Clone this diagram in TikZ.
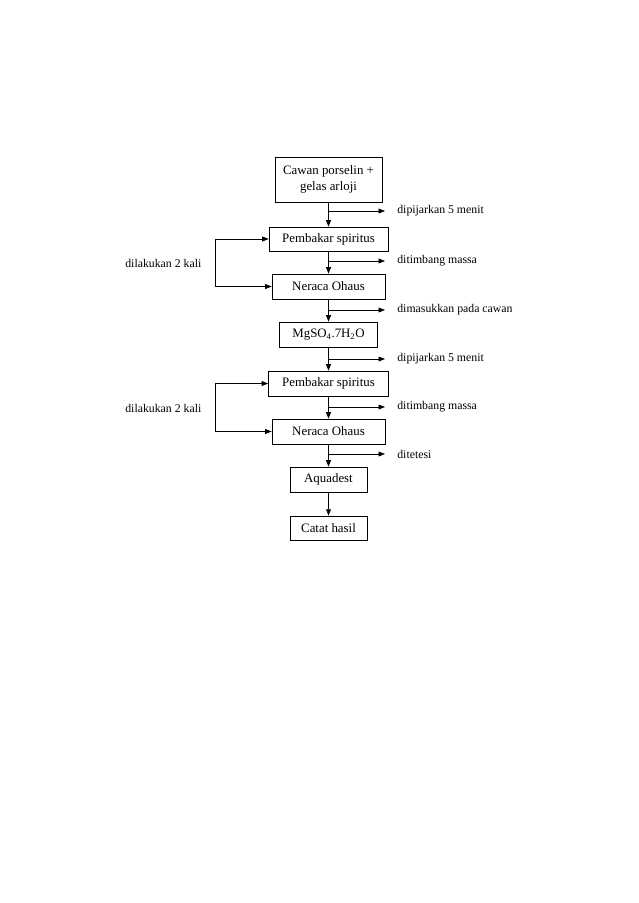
\documentclass[tikz,border=0pt]{standalone}
\usepackage{fontspec}
\setmainfont{Liberation Serif}
\usetikzlibrary{arrows.meta}

\newcommand{\pxu}{0.9326pt}

\begin{document}
\begin{tikzpicture}[x=\pxu, y=-\pxu, line width=0.6pt, >={Triangle[length=6pt,width=4.5pt]},
		box/.style={draw, inner sep=0pt, align=center, font=\fontsize{12}{14.5}\selectfont},
		note/.style={anchor=west, inner sep=0pt, font=\fontsize{11}{13}\selectfont}]
				\useasboundingbox (0,0) rectangle (638,903);
				% langkah-langkah
				\node[box, minimum width=107*\pxu, minimum height=45*\pxu] (cawan) at (328.5,179.5) {Cawan porselin +\\gelas arloji};
				\node[box, minimum width=119*\pxu, minimum height=24*\pxu] (bakar1) at (328.5,239) {Pembakar spiritus};
				\node[box, minimum width=113*\pxu, minimum height=25*\pxu] (neraca1) at (328.5,286.5) {Neraca Ohaus};
				\node[box, minimum width=98*\pxu, minimum height=25*\pxu] (garam) at (328.5,334.5) {MgSO\textsubscript{4}.7H\textsubscript{2}O};
				\node[box, minimum width=120*\pxu, minimum height=25*\pxu] (bakar2) at (328.5,383.5) {Pembakar spiritus};
				\node[box, minimum width=113*\pxu, minimum height=25*\pxu] (neraca2) at (328.5,431.5) {Neraca Ohaus};
				\node[box, minimum width=77*\pxu, minimum height=25*\pxu] (aqua) at (328.5,479.5) {Aquadest};
				\node[box, minimum width=77*\pxu, minimum height=24*\pxu] (catat) at (328.5,528) {Catat hasil};

				% ujung panah samping
				\coordinate (s1) at (385,211);
				\coordinate (s2) at (385,261);
				\coordinate (s3) at (385,310);
				\coordinate (s4) at (385,359);
				\coordinate (s5) at (385,407);
				\coordinate (s6) at (385,454);
				\coordinate (k1) at (215.7,239);
				\coordinate (k2) at (215.7,383.5);

				\node[note] (t1) at (397,211) {dipijarkan 5 menit};
				\node[note] (t2) at (397,261) {ditimbang massa};
				\node[note] (t3) at (397,310) {dimasukkan pada cawan};
				\node[note] (t4) at (397,359) {dipijarkan 5 menit};
				\node[note] (t5) at (397,407) {ditimbang massa};
				\node[note] (t6) at (397,454) {ditetesi};
				\node[note] (u1) at (125,263) {dilakukan 2 kali};
				\node[note] (u2) at (125,408) {dilakukan 2 kali};

				\draw[->] (cawan) -- (bakar1);
				\draw[->] (bakar1) -- (neraca1);
				\draw[->] (neraca1) -- (garam);
				\draw[->] (garam) -- (bakar2);
				\draw[->] (bakar2) -- (neraca2);
				\draw[->] (neraca2) -- (aqua);
				\draw[->] (aqua) -- (catat);

				\foreach \s in {s1,s2,s3,s4,s5,s6}
					\draw[->] (cawan.south |- \s) -- (\s);

				\draw[<->] (bakar1.west) -- (k1) |- (neraca1.west);
				\draw[<->] (bakar2.west) -- (k2) |- (neraca2.west);
			\end{tikzpicture}
\end{document}
